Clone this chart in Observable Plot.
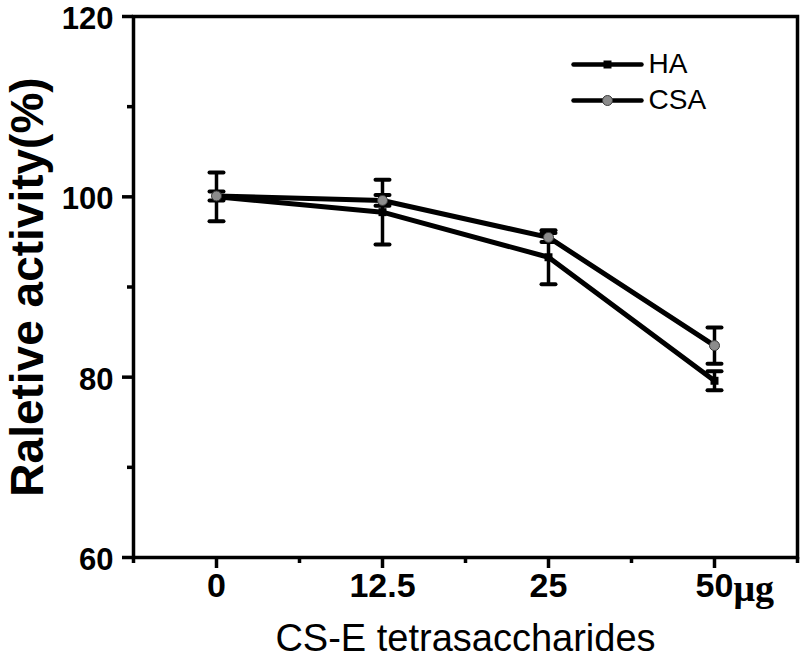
<!DOCTYPE html>
<html><head><meta charset="utf-8">
<script src="https://cdn.jsdelivr.net/npm/d3@7"></script>
<script src="https://cdn.jsdelivr.net/npm/@observablehq/plot@0.6"></script>
<style>body{margin:0;background:#fff}</style>
</head><body><div id="chart"></div>
<script>
const categories = ["0", "12.5", "25", "50"];
const xTickLabels = ["0", "12.5", "25", "50"];
const unitLabel = "μg";
const haMean = [100, 98.3, 93.3, 79.6];
const haErr = [2.7, 3.6, 3.0, 1.05];
const csaMean = [100.1, 99.6, 95.5, 83.5];
const csaErr = [0.5, 0.6, 0.5, 2.0];
const yTicks = [60, 80, 100, 120];
const yMinorTicks = [70, 90, 110];
const xMinorTicks = [-0.5, 0.5, 1.5, 2.5, 3.5];
const seriesNames = ["HA", "CSA"];
const xTitle = "CS-E tetrasaccharides";
const yTitle = "Raletive activity(%)";

const rows = [];
categories.forEach((c, i) => {
  rows.push({series: "HA", i, v: haMean[i], e: haErr[i]});
  rows.push({series: "CSA", i, v: csaMean[i], e: csaErr[i]});
});
const ha = rows.filter(d => d.series === "HA");
const csa = rows.filter(d => d.series === "CSA");

const hline = {draw(ctx, size) { const r = Math.sqrt(size / Math.PI); ctx.moveTo(-r, 0); ctx.lineTo(r, 0); }};

const legendMarks = [];
const legendDy = [48, 84];
seriesNames.forEach((name, k) => {
  legendMarks.push(Plot.dot([name], {frameAnchor: "top-left", dx: 474, dy: legendDy[k], symbol: hline, r: 34, stroke: "black", strokeWidth: 4.5, strokeLinecap: "round"}));
  if (name === "HA") legendMarks.push(Plot.dot([name], {frameAnchor: "top-left", dx: 474, dy: legendDy[k], symbol: "square", r: 4.5, fill: "black"}));
  else legendMarks.push(Plot.dot([name], {frameAnchor: "top-left", dx: 474, dy: legendDy[k], symbol: "circle", r: 5, fill: "#8c8c8c", stroke: "#3a3a3a", strokeWidth: 1}));
  legendMarks.push(Plot.text([name], {frameAnchor: "top-left", dx: 515, dy: legendDy[k], text: d => d, textAnchor: "start", lineAnchor: "middle", fontSize: 28}));
});

const chart = Plot.plot({
  width: 800, height: 659,
  marginLeft: 133, marginRight: 3, marginTop: 16, marginBottom: 102,
  x: {domain: [-0.5, 3.5]},
  y: {domain: [60, 120]},
  style: {fontFamily: "'Liberation Sans', Arial, sans-serif", color: "black", background: "white"},
  marks: [
    Plot.axisY({ticks: yTicks, tickSize: 11, tickFormat: () => "", strokeWidth: 3.5, label: null}),
    Plot.text(yTicks, {y: d => d, text: d => String(d), frameAnchor: "left", dx: -20, dy: 2.5, textAnchor: "end", lineAnchor: "middle", fontSize: 31, fontWeight: "bold"}),
    Plot.axisY({ticks: yMinorTicks, tickSize: 6, tickFormat: () => "", strokeWidth: 3.5, label: null}),
    Plot.axisX({ticks: [0, 1, 2, 3], tickFormat: i => xTickLabels[i], tickSize: 11, tickPadding: 4, fontSize: 34, fontWeight: "bold", strokeWidth: 3.5, label: null}),
    Plot.axisX({ticks: xMinorTicks, tickSize: 6, tickFormat: () => "", strokeWidth: 3.5, label: null}),
    Plot.text([3], {x: d => d, frameAnchor: "bottom", dy: 31, dx: 19, text: () => unitLabel, textAnchor: "start", lineAnchor: "middle", fontFamily: "'Liberation Serif', serif", fontWeight: "bold", fontSize: 38}),
    Plot.frame({stroke: "black", strokeWidth: 3.5}),
    Plot.line(rows, {x: "i", y: "v", z: "series", stroke: "black", strokeWidth: 5, strokeLinejoin: "round"}),
    Plot.ruleX(rows, {x: "i", y1: d => d.v - d.e, y2: d => d.v + d.e, stroke: "black", strokeWidth: 3.5}),
    Plot.dot(rows, {x: "i", y: d => d.v + d.e, symbol: hline, r: 7, stroke: "black", strokeWidth: 4, strokeLinecap: "round"}),
    Plot.dot(rows, {x: "i", y: d => d.v - d.e, symbol: hline, r: 7, stroke: "black", strokeWidth: 4, strokeLinecap: "round"}),
    Plot.dot(ha, {x: "i", y: "v", symbol: "square", r: 4.5, fill: "black"}),
    Plot.dot(csa, {x: "i", y: "v", symbol: "circle", r: 5, fill: "#8c8c8c", stroke: "#3a3a3a", strokeWidth: 1}),
    ...legendMarks,
    Plot.text([yTitle], {frameAnchor: "left", dx: -105, rotate: -90, text: d => d, textAnchor: "middle", lineAnchor: "middle", fontSize: 46, fontWeight: "bold"}),
    Plot.text([xTitle], {frameAnchor: "bottom", dy: 81, text: d => d, textAnchor: "middle", lineAnchor: "middle", fontSize: 38})
  ]
});
document.getElementById("chart").appendChild(chart);
</script>
</body></html>
